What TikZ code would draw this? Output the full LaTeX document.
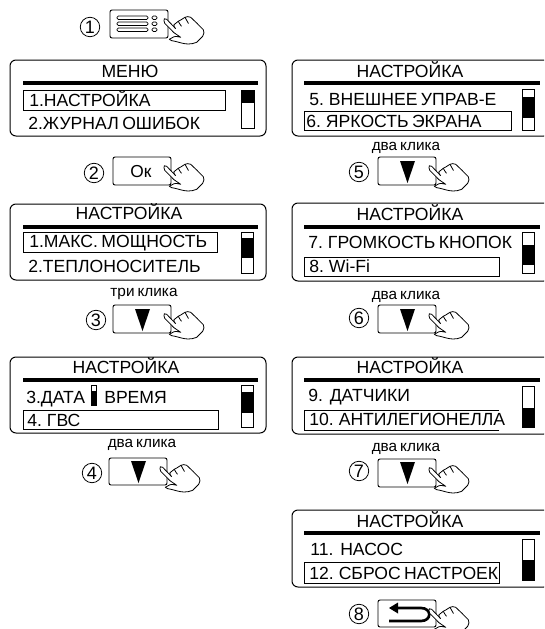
\documentclass[tikz,border=0pt]{standalone}
\usepackage{fontspec}
\setmainfont[WordSpace=0.7]{Liberation Sans}
\begin{document}
\begin{tikzpicture}[x=0.75pt,y=-0.75pt,
    frame/.style ={draw, line width=0.75pt, rounded corners=4.5pt},
    rulebar/.style ={line width=2.4pt},
    selbox/.style ={draw, line width=0.7pt},
    barbox/.style ={draw, line width=0.7pt},
    keybox/.style ={draw, line width=0.7pt, rounded corners=1.5pt},
    label/.style ={inner sep=0pt, anchor=west, font=\fontsize{13.2}{13}\selectfont, text height=9.4pt, text depth=0pt},
    title/.style ={label, anchor=center},
    clicks/.style ={inner sep=0pt, font=\fontsize{11.5}{11}\selectfont},
    stepmark/.style ={circle, draw, line width=0.6pt, inner sep=0pt, minimum size=14.6pt, font=\fontsize{13.5}{13}\selectfont},
    hand/.pic ={
      \draw[fill=white, line width=0.6pt, line join=round] (4.7,18.7) -- (-4.3,9.3)
        .. controls (-6,7.8) and (-8,9) .. (-7,10.7) .. controls (-7,12) and (-7,12.5) .. (-6.3,13.3)
        -- (3,22.7) -- (9.7,27.3) .. controls (6,26.3) and (4,26.3) .. (3,26.7) -- (-1.7,29.3)
        .. controls (-1,30.5) and (2,31) .. (4,31.3) .. controls (9,32.5) and (13,34) .. (17.3,34)
        .. controls (20,34) and (23,33.5) .. (25.7,32.3) -- (31.7,26.3)
        .. controls (33,24) and (33.5,21.5) .. (32.3,19.7) -- (25.7,13) -- (19.7,7.3)
        .. controls (18,6.3) and (15.5,6.5) .. (14,7.3) -- (9.7,10) -- (7.3,11.3) -- (3,14.7)
        .. controls (2.5,16) and (3.5,17.5) .. (4.7,18.7);
      \draw[line width=0.6pt] (7.3,11.3) .. controls (8,13) and (9.5,15) .. (10.5,16.3);
      \draw[line width=0.6pt] (14,7.3) .. controls (15,9) and (16.5,12) .. (17.5,13.5);
    }]
   \clip (0,0) rectangle (544,629);
   \useasboundingbox (0,0) rectangle (544,629);
   % screens
   \foreach \xa/\xb/\ya/\yb in {10/266/60/136, 10/266/204/280, 10/266/357/433,
       292/550/60/136, 292/550/203/281, 292/550/357/434, 292/550/510/587}
     \draw[frame] (\xa,\ya) rectangle (\xb,\yb);
   \foreach \xa/\xb/\yr in {23/258/83, 23/258/227, 23/258/380,
       304/540/83, 304/540/227, 304/540/380, 304/540/533}
     \draw[rulebar] (\xa,\yr) -- (\xb,\yr);
   % selected lines
   \foreach \xa/\xb/\ya/\yb in {23/225/90/110, 23/217/232/252, 23/218/410/429,
       304/511/111/130, 304/499/257/276, 304/499/562/583}
     \draw[selbox] (\xa,\ya) rectangle (\xb,\yb);
   \draw[line width=0.7pt] (499,430) -- (304,430) -- (304,410) -- (499,410);
   % scroll bars
   \foreach \xa/\xb/\ya/\yb/\fa/\fb in {241/254/90/128/90/103, 241/253/232/273/238/258,
       241/253/385/427/392/413, 522/534/89/130/97/118, 522/534/232/273/245/265,
       522/534/386/427/408/427, 522/534/539/580/560/580, 91/96/385/405/391/405}{
     \fill (\xa,\fa) rectangle (\xb,\fb);
     \draw[barbox] (\xa,\ya) rectangle (\xb,\yb);
   }
   % texts
   \node[title] (menutitle) at (130,71) {МЕНЮ};
   \node[label] (menua) at (29,100) {1.НАСТРОЙКА};
   \node[label] (menub) at (28,123) {2.ЖУРНАЛ ОШИБОК};
   \node[title] (thirdtitle) at (129,213) {НАСТРОЙКА};
   \node[label] (thirda) at (29,241) {1.МАКС. МОЩНОСТЬ};
   \node[label] (thirdb) at (28,266) {2.ТЕПЛОНОСИТЕЛЬ};
   \node[title] (fourthtitle) at (126,367) {НАСТРОЙКА};
   \node[label] (fourtha) at (26,397) {3.ДАТА};
   \node[label] (fourthc) at (104,397) {ВРЕМЯ};
   \node[label] (fourthb) at (27,420) {4. ГВС};
   \node[title] (fifthtitle) at (410,71) {НАСТРОЙКА};
   \node[label] (fiftha) at (309,99) {5. ВНЕШНЕЕ УПРАВ-Е};
   \node[label] (fifthb) at (306,121) {6. ЯРКОСТЬ ЭКРАНА};
   \node[title] (sixthtitle) at (410,214) {НАСТРОЙКА};
   \node[label] (sixtha) at (308,242) {7. ГРОМКОСТЬ КНОПОК};
   \node[label] (sixthb) at (309,266) {8. Wi-Fi};
   \node[title] (seventhtitle) at (410,367) {НАСТРОЙКА};
   \node[label] (seventha) at (308,395) {9.\ \ ДАТЧИКИ};
   \node[label] (seventhb) at (309,419) {10. АНТИЛЕГИОНЕЛЛА};
   \node[title] (eighthtitle) at (410,521) {НАСТРОЙКА};
   \node[label] (eightha) at (310,549) {11.\ \ НАСОС};
   \node[label] (eighthb) at (309,573) {12. СБРОС НАСТРОЕК};
   % keys
   \foreach \xa/\xb/\ya/\yb in {110/168/10/38, 113/171/157/185, 113/171/305/333, 109/167/458/485,
       378/436/157/185, 378/436/305/333, 378/436/459/487, 378/436/600/627}
     \draw[keybox] (\xa,\ya) rectangle (\xb,\yb);
   \foreach \ya in {16,22,28}{
     \draw[line width=0.6pt, rounded corners=1pt] (117,\ya) rectangle (148,\ya+3.5);
     \draw[line width=0.6pt, rounded corners=1pt] (152,\ya) rectangle (157,\ya+3.5);
   }
   \node[inner sep=0pt, font=\fontsize{13}{13}\selectfont] (okkey) at (141,172) {Ок};
   \foreach \xa/\ya in {135/309, 131/461, 400/161, 400/309, 400/462}
     \fill (\xa,\ya) -- ++(15,0) -- ++(-7.5,22) -- cycle;
   \fill (389,608) -- (398,602.5) -- (398,613.5) -- cycle;
   \draw[line width=2pt] (396,608) -- (421,608) .. controls (432,608) and (432,621) .. (421,621) -- (389,621);
   % hands
   \foreach \xa/\ya in {171/10, 171/157, 171/305, 167/458, 436/157, 436/305, 436/459, 436/600}
     \pic at (\xa,\ya) {hand};
   % step numbers
   \foreach \num/\xa/\ya in {1/90/27, 2/94/173, 3/96/320, 4/92/473, 5/359/172, 6/359/318, 7/359/471, 8/359/614}
     \node[stepmark] (step\num) at (\xa,\ya) {\num};
   \node[clicks] (clicksc) at (144,294) {три клика};
   \node[clicks] (clicksd) at (142,445) {два клика};
   \node[clicks] (clickse) at (406,148) {два клика};
   \node[clicks] (clicksf) at (406,297) {два клика};
   \node[clicks] (clicksg) at (406,449) {два клика};
 \end{tikzpicture}
\end{document}
